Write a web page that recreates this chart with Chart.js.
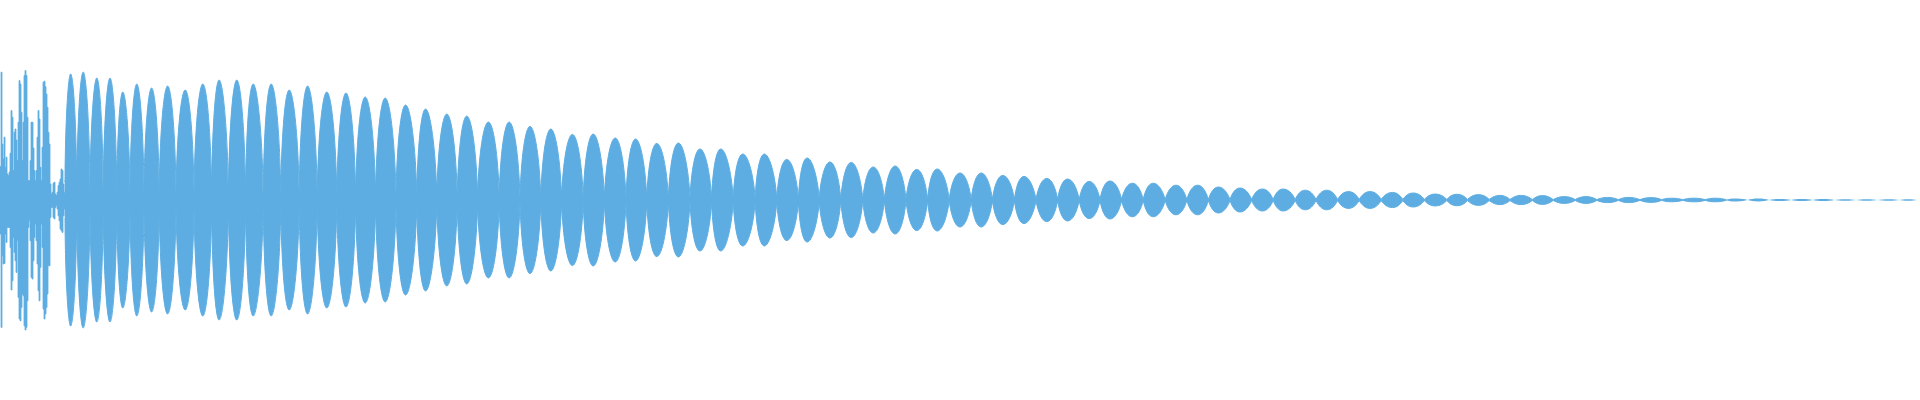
<!DOCTYPE html>
<html>
<head>
<meta charset="utf-8">
<title>Waveform</title>
<script src="https://cdn.jsdelivr.net/npm/chart.js@4.4.1/dist/chart.umd.min.js"></script>
<style>
  html, body { margin: 0; padding: 0; background: #ffffff; }
  #wrap { width: 1920px; height: 400px; }
</style>
</head>
<body>
<div id="wrap"><canvas id="waveChart"></canvas></div>
<script>
// Barva vlny
const waveColor = '#5dade2';

// Nabeh (attack): max/min per bin, kazdy bin 2.5 ms od 0 ms
const binMs = 2.5;
const attackMax = [0.167, 0.639, 0.28, 0.205, 0.314, 0.164, 0.214, 0.13, 0.122, 0.139,
  0.234, 0.447, 0.414, 0.147, 0.339, 0.355, 0.3, 0.197, 0.389, 0.597,
  0.58, 0.439, 0.197, 0.389, 0.622, 0.647, 0.622, 0.414, 0.097, 0.097,
  0.197, 0.389, 0.389, 0.26, 0.147, 0.097, 0.147, 0.314, 0.447, 0.405,
  0.164, 0.097, 0.264, 0.589, 0.594, 0.567, 0.53, 0.464, 0.339, 0.28,
  0.08, 0.03, 0.039, 0.084, 0.089, 0.03, 0.022, 0.039, 0.072, 0.089,
  0.105, 0.155, 0.147, 0.08, 0.039, 0.097];
const attackMin = [-0.17, -0.637, -0.279, -0.32, -0.317, -0.17, -0.212, -0.137, -0.137, -0.137,
  -0.237, -0.45, -0.404, -0.187, -0.262, -0.304, -0.362, -0.204, -0.487, -0.595,
  -0.604, -0.537, -0.47, -0.479, -0.629, -0.65, -0.637, -0.504, -0.137, -0.104,
  -0.204, -0.387, -0.395, -0.304, -0.187, -0.12, -0.204, -0.32, -0.454, -0.504,
  -0.337, -0.12, -0.237, -0.545, -0.595, -0.57, -0.537, -0.47, -0.329, -0.329,
  -0.087, -0.037, -0.037, -0.087, -0.095, -0.037, -0.029, -0.045, -0.079, -0.104,
  -0.145, -0.154, -0.162, -0.079, -0.045, -0.087];

// Dozvuk se zaznejmi: uzly (ms), vrcholy laloku (ms) a jejich amplitudy
const pinchMs = [162.5, 192, 225, 258, 292, 325, 360, 398, 440, 485,
  529, 571, 614, 658, 702, 748, 793, 842, 889, 939,
  990, 1042, 1092, 1143, 1194, 1248, 1300, 1352, 1404, 1458,
  1511, 1565, 1617, 1671, 1725, 1779, 1833, 1888, 1942, 1996,
  2048, 2102, 2157, 2211, 2265, 2319, 2373, 2428, 2481, 2536,
  2590, 2644, 2698, 2750, 2804, 2858, 2913, 2967, 3021, 3075,
  3129, 3183, 3238, 3290, 3344, 3398, 3453, 3507, 3561, 3617,
  3669, 3723, 3775, 3831, 3883, 3938, 3992, 4046, 4100, 4154,
  4207, 4263, 4315, 4369, 4423, 4478, 4532, 4586, 4640, 4694,
  4748, 4793];
const pinchAmp = [0.09, 0.03, 0.03, 0.03, 0.03, 0.03, 0.03, 0.03, 0.03, 0.03,
  0.03, 0.02, 0.02, 0.02, 0.02, 0.02, 0.02, 0.02, 0.02, 0.02,
  0.02, 0.02, 0.02, 0.02, 0.02, 0.02, 0.01, 0.01, 0.01, 0.01,
  0.01, 0.01, 0.01, 0.01, 0.01, 0.01, 0.01, 0.01, 0.01, 0.01,
  0.01, 0.004, 0.004, 0.004, 0.004, 0.004, 0.004, 0.004, 0.004, 0.004,
  0.004, 0.004, 0.004, 0.004, 0.004, 0.003, 0.003, 0.003, 0.003, 0.003,
  0.003, 0.003, 0.003, 0.003, 0.003, 0.003, 0.003, 0.003, 0.003, 0.003,
  0.003, 0.003, 0.003, 0.002, 0.002, 0.002, 0.002, 0.002, 0.002, 0.002,
  0.002, 0.002, 0.002, 0, 0, 0, 0, 0, 0, 0,
  0, 0];
const peakMs = [177, 208, 242, 275, 307, 342, 379, 419, 463, 507,
  548, 592, 633, 678, 723, 769, 817, 865, 913, 963,
  1014, 1064, 1117, 1167, 1221, 1273, 1325, 1377, 1431, 1483,
  1538, 1589, 1642, 1696, 1750, 1802, 1857, 1911, 1967, 2018,
  2075, 2128, 2183, 2238, 2292, 2343, 2400, 2453, 2507, 2560,
  2617, 2669, 2723, 2775, 2831, 2883, 2940, 2994, 3046, 3100,
  3156, 3208, 3263, 3317, 3371, 3425, 3481, 3533, 3588, 3642,
  3696, 3750, 3803, 3856, 3911, 3965, 4019, 4071, 4128, 4179,
  4235, 4288, 4342, 4396, 4450, 4504, 4558, 4613, 4667, 4723,
  4770];
const peakAmp = [0.63, 0.64, 0.61, 0.61, 0.54, 0.58, 0.56, 0.57, 0.55, 0.58,
  0.6, 0.6, 0.58, 0.58, 0.55, 0.57, 0.54, 0.535, 0.515, 0.51,
  0.475, 0.455, 0.43, 0.42, 0.39, 0.39, 0.368, 0.355, 0.328, 0.33,
  0.31, 0.305, 0.283, 0.285, 0.255, 0.255, 0.23, 0.23, 0.203, 0.21,
  0.19, 0.188, 0.165, 0.17, 0.153, 0.155, 0.135, 0.135, 0.123, 0.118,
  0.108, 0.105, 0.093, 0.095, 0.084, 0.084, 0.074, 0.074, 0.065, 0.06,
  0.055, 0.055, 0.049, 0.049, 0.042, 0.042, 0.038, 0.035, 0.03, 0.029,
  0.027, 0.023, 0.023, 0.022, 0.017, 0.017, 0.013, 0.013, 0.012, 0.009,
  0.009, 0.009, 0.007, 0.007, 0.005, 0.005, 0.005, 0.004, 0.004, 0.004,
  0.004];

// Body pro graf
const attackTop = attackMax.map((v, i) => ({ x: i * binMs, y: v }));
const attackBottom = attackMin.map((v, i) => ({ x: i * binMs, y: v }));
const lobeTop = [];
const lobeBottom = [];
for (let i = 0; i < pinchMs.length; i++) {
    lobeTop.push({ x: pinchMs[i], y: pinchAmp[i] });
    lobeBottom.push({ x: pinchMs[i], y: -pinchAmp[i] });
    if (i < peakMs.length) {
        lobeTop.push({ x: peakMs[i], y: peakAmp[i] });
        lobeBottom.push({ x: peakMs[i], y: -peakAmp[i] });
    }
}

// Spicate uzly mezi laloky: vysoke laloky maji v uzlu skoro svisle boky,
// nizke laloky jsou spis kosoctverce
const pointedNodes = {
    id: 'pointedNodes',
    afterDatasetsUpdate(chart, args, opts) {
        chart.data.datasets.forEach((ds, i) => {
            if (!ds.pointedNodes) return;
            const meta = chart.getDatasetMeta(i);
            meta.dataset.updateControlPoints(chart.chartArea, 'x');
            const pts = meta.data;
            const handle = (p, q) => {
                const dx = q.x - p.x, dy = q.y - p.y;
                const r = Math.abs(dx) / Math.max(Math.abs(dy), 0.01);
                const a = opts.a * r / (r + opts.r0);
                return { x: p.x + a * dx, y: p.y + opts.k * dy };
            };
            for (let j = 0; j < pts.length; j += 2) {
                const p = pts[j];
                if (j > 0) { const h = handle(p, pts[j - 1]); p.cp1x = h.x; p.cp1y = h.y; }
                if (j < pts.length - 1) { const h = handle(p, pts[j + 1]); p.cp2x = h.x; p.cp2y = h.y; }
            }
        });
    }
};

// Na uplnem konci bez obrysu, at jsou mezi laloky mezery
const lobeSegment = {
    borderColor: c => (Math.max(Math.abs(c.p0.parsed.y), Math.abs(c.p1.parsed.y)) < 0.008 ? 'rgba(0,0,0,0)' : waveColor)
};

const ctx = document.getElementById('waveChart').getContext('2d');

const waveChart = new Chart(ctx, {
    type: 'line',
    data: {
        datasets: [
            { data: attackTop, stepped: true, fill: '+1', backgroundColor: waveColor, borderColor: waveColor, borderWidth: 0.8, pointRadius: 0 },
            { data: attackBottom, stepped: true, fill: false, backgroundColor: waveColor, borderColor: waveColor, borderWidth: 0.8, pointRadius: 0 },
            { data: lobeTop, tension: 0.45, pointedNodes: true, fill: '+1', backgroundColor: waveColor, borderColor: waveColor, borderWidth: 1, pointRadius: 0, segment: lobeSegment },
            { data: lobeBottom, tension: 0.45, pointedNodes: true, fill: false, backgroundColor: waveColor, borderColor: waveColor, borderWidth: 1, pointRadius: 0, segment: lobeSegment }
        ]
    },
    options: {
        responsive: true,
        maintainAspectRatio: false,
        animation: false,
        layout: { padding: 0 },
        scales: {
            x: { type: 'linear', min: 0, max: 4800, display: false },
            y: { min: -1, max: 1, display: false }
        },
        plugins: {
            legend: { display: false },
            tooltip: { enabled: false },
            pointedNodes: { k: 0.55, a: 0.3, r0: 0.3 }
        }
    },
    plugins: [pointedNodes]
});
</script>
</body>
</html>
